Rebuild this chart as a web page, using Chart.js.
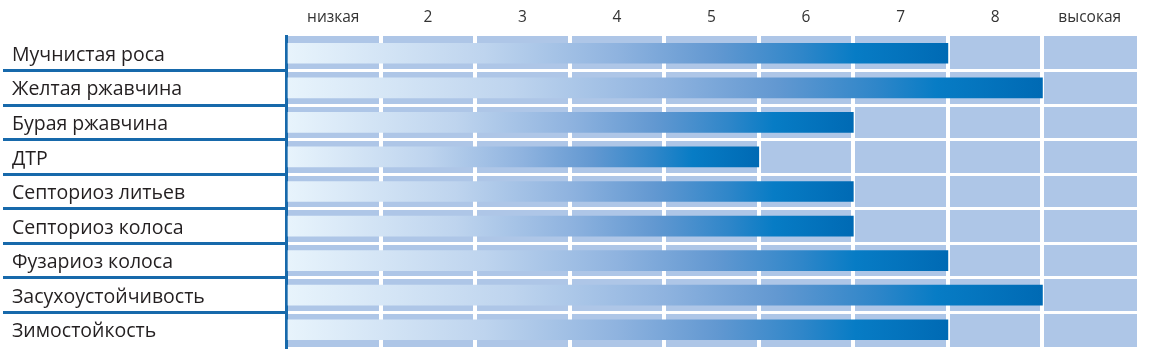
<!DOCTYPE html>
<html>
<head>
<meta charset="utf-8">
<script src="https://cdn.jsdelivr.net/npm/chart.js@4/dist/chart.umd.min.js"></script>
<style>
  html, body { margin: 0; padding: 0; background: #fff; }
  #wrap { width: 1151px; height: 353px; position: relative; }
</style>
</head>
<body>
<div id="wrap"><canvas id="chart"></canvas></div>
<script>
const categories = [
    "Мучнистая роса",
    "Желтая ржавчина",
    "Бурая ржавчина",
    "ДТР",
    "Септориоз литьев",
    "Септориоз колоса",
    "Фузариоз колоса",
    "Засухоустойчивость",
    "Зимостойкость",
];
const colLabels = ["низкая", "2", "3", "4", "5", "6", "7", "8", "высокая"];
const ratings = [7, 8, 6, 5, 6, 6, 7, 8, 7];

const CELL = "#aec6e7";
const LINE_BLUE = "#1769ab";

// light blue cells behind the plot
const cellBackground = {
    id: "cellBackground",
    beforeDraw(chart) {
        const { ctx, chartArea: a } = chart;
        ctx.save();
        ctx.fillStyle = CELL;
        ctx.fillRect(a.left, a.top, a.right - a.left, a.bottom - a.top);
        ctx.restore();
    },
};

// each bar fades from almost white to deep blue along its own length
function barGradient(c) {
    const chart = c.chart;
    if (!chart.chartArea || c.dataIndex === undefined) return "#0070c0";
    const x = chart.scales.x;
    const x0 = x.getPixelForValue(0);
    const x1 = x.getPixelForValue(c.raw);
    const g = chart.ctx.createLinearGradient(x0, 0, x1, 0);
    g.addColorStop(0, "#e8f4fc");
    g.addColorStop(0.3, "#bed4ee");
    g.addColorStop(0.5, "#8fb3df");
    g.addColorStop(0.65, "#6298d1");
    g.addColorStop(0.78, "#2f86c9");
    g.addColorStop(0.86, "#077cc5");
    g.addColorStop(1, "#006ab4");
    return g;
}

new Chart(document.getElementById("chart"), {
    type: "bar",
    data: {
        labels: categories,
        datasets: [{
            data: ratings,
            backgroundColor: barGradient,
            borderWidth: 0,
            barThickness: 20,
        }],
    },
    options: {
        indexAxis: "y",
        responsive: true,
        maintainAspectRatio: false,
        animation: false,
        layout: { padding: { left: 12, right: 14, top: 0, bottom: 6 } },
        plugins: { legend: { display: false }, tooltip: { enabled: false } },
        scales: {
            x: {
                type: "linear",
                position: "bottom",
                min: 0,
                max: 9,
                ticks: { display: false, stepSize: 1 },
                grid: {
                    color: (c) => (c.index > 0 && c.index < 9 ? "#ffffff" : "rgba(0,0,0,0)"),
                    lineWidth: 4,
                    drawTicks: false,
                },
                border: { display: false },
                afterFit: (s) => { s.height = 0; },
            },
            xTop: {
                type: "category",
                labels: colLabels,
                position: "top",
                offset: true,
                grid: { display: false, drawTicks: false },
                border: { display: false },
                ticks: {
                    color: "#333333",
                    font: { family: "'Open Sans', sans-serif", size: 15.5 },
                    padding: 9,
                    maxRotation: 0,
                    autoSkip: false,
                },
                afterFit: (s) => { s.height = 36; },
            },
            y: {
                type: "category",
                offset: true,
                grid: {
                    offset: true,
                    color: (c) => (c.index > 0 ? "#ffffff" : "rgba(0,0,0,0)"),
                    lineWidth: 3,
                    tickColor: (c) => (c.index > 0 ? LINE_BLUE : "rgba(0,0,0,0)"),
                    tickWidth: 3,
                    tickLength: 283,
                },
                border: { display: true, color: LINE_BLUE, width: 3 },
                ticks: {
                    crossAlign: "far",
                    color: "#231f20",
                    font: { family: "'Open Sans', sans-serif", size: 19.5 },
                    padding: 4,
                    labelOffset: 2,
                    autoSkip: false,
                },
                afterFit: (s) => {
                    s.width = 274;
                    s.paddingTop = 0;
                    s.paddingBottom = 0;
                },
            },
        },
    },
    plugins: [cellBackground],
});
</script>
</body>
</html>
